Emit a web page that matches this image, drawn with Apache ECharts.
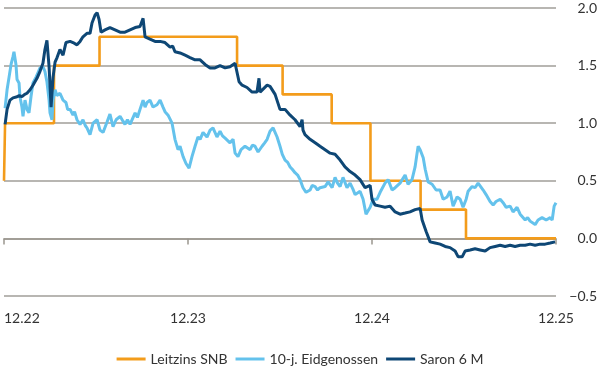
<!DOCTYPE html>
<html>
<head>
<meta charset="utf-8">
<script src="https://cdn.jsdelivr.net/npm/echarts@6/dist/echarts.min.js"></script>
<style>
html,body{margin:0;padding:0;background:#fff;}
#chart{width:600px;height:380px;}
</style>
</head>
<body>
<div id="chart"></div>
<script>
// x = months since 12.22 (mid-December 2022)
var tickLabels = ['12.22', '12.23', '12.24', '12.25'];
var seriesNames = ['Leitzins SNB', '10-j. Eidgenossen', 'Saron 6 M'];

// SNB policy rate (step changes)
var leitzins = [
  [0, 0.5], [0.07, 1.0], [3.26, 1.5], [6.23, 1.75], [15.2, 1.5], [18.17, 1.25],
  [21.37, 1.0], [23.9, 0.5], [27.17, 0.25], [30.13, 0.0], [36, 0.0]
];

// 10-year Swiss government bond yield
var eidgenossen = [
  [0.07,1.13],[0.2,1.29],[0.33,1.40],[0.46,1.51],[0.59,1.58],[0.65,1.62],[0.78,1.51],[0.85,1.38],
  [0.98,1.35],[1.04,1.23],[1.17,1.14],[1.24,1.06],[1.37,1.20],[1.5,1.12],[1.63,1.09],[1.76,1.23],
  [1.89,1.35],[2.09,1.40],[2.22,1.44],[2.35,1.48],[2.54,1.49],[2.67,1.45],[2.8,1.36],[2.94,1.20],
  [3.0,1.09],[3.13,1.03],[3.2,1.20],[3.33,1.29],[3.45,1.24],[3.52,1.23],[3.65,1.26],[3.85,1.20],
  [4.04,1.18],[4.15,1.12],[4.31,1.12],[4.5,1.07],[4.6,1.10],[4.76,1.03],[4.96,0.99],[5.15,1.03],
  [5.3,0.98],[5.41,0.96],[5.61,0.90],[5.81,1.00],[6.07,1.03],[6.26,0.94],[6.46,0.92],[6.72,1.01],
  [6.91,1.08],[7.11,0.97],[7.31,1.03],[7.57,1.06],[7.75,1.02],[7.89,0.99],[8.05,1.03],[8.22,0.99],
  [8.55,1.09],[8.7,1.05],[8.87,1.12],[9.07,1.20],[9.2,1.14],[9.33,1.18],[9.52,1.20],[9.72,1.14],
  [9.98,1.16],[10.18,1.20],[10.37,1.14],[10.5,1.10],[10.7,1.07],[10.96,1.00],[11.15,0.86],[11.35,0.77],
  [11.48,0.80],[11.68,0.71],[11.87,0.65],[12.07,0.61],[12.26,0.71],[12.46,0.80],[12.65,0.88],[12.79,0.86],
  [12.98,0.92],[13.24,0.88],[13.44,0.94],[13.63,0.96],[13.89,0.88],[14.09,0.93],[14.25,0.89],[14.42,0.87],
  [14.74,0.83],[14.94,0.86],[15.07,0.74],[15.26,0.71],[15.46,0.77],[15.72,0.80],[16.05,0.77],[16.2,0.81],
  [16.37,0.80],[16.57,0.75],[16.83,0.80],[17.0,0.83],[17.16,0.86],[17.35,0.93],[17.55,0.96],[17.81,0.88],
  [18.0,0.80],[18.15,0.73],[18.33,0.68],[18.5,0.66],[18.66,0.62],[18.8,0.60],[18.98,0.57],[19.15,0.55],
  [19.31,0.51],[19.5,0.44],[19.7,0.40],[19.96,0.42],[20.1,0.46],[20.29,0.45],[20.45,0.42],[20.61,0.44],
  [20.94,0.45],[21.14,0.49],[21.4,0.44],[21.59,0.53],[21.75,0.48],[21.92,0.45],[22.11,0.53],[22.37,0.44],
  [22.57,0.48],[22.75,0.43],[22.9,0.38],[23.22,0.41],[23.42,0.34],[23.61,0.21],[23.88,0.27],[24.07,0.34],
  [24.33,0.34],[24.53,0.40],[24.85,0.48],[25.05,0.51],[25.31,0.42],[25.51,0.44],[25.83,0.48],[26.16,0.55],
  [26.35,0.47],[26.61,0.51],[26.81,0.62],[26.94,0.74],[27.01,0.80],[27.14,0.77],[27.34,0.70],[27.47,0.60],
  [27.66,0.49],[27.92,0.47],[28.18,0.42],[28.44,0.42],[28.64,0.34],[28.9,0.36],[29.09,0.41],[29.29,0.28],
  [29.55,0.36],[29.75,0.34],[29.94,0.27],[30.14,0.34],[30.27,0.41],[30.53,0.45],[30.72,0.44],[30.92,0.48],
  [31.05,0.47],[31.25,0.42],[31.44,0.38],[31.7,0.32],[31.9,0.29],[32.09,0.32],[32.36,0.34],[32.55,0.31],
  [32.75,0.27],[33.01,0.28],[33.2,0.23],[33.46,0.27],[33.66,0.21],[33.99,0.16],[34.15,0.18],[34.31,0.15],
  [34.64,0.12],[34.83,0.16],[35.09,0.18],[35.36,0.16],[35.62,0.18],[35.75,0.16],[35.88,0.28],[36.0,0.31]
];

// Saron 6-month rate
var saron = [
  [0.07,0.99],[0.2,1.12],[0.39,1.20],[0.59,1.22],[0.85,1.23],[1.0,1.24],[1.17,1.23],[1.35,1.25],
  [1.5,1.26],[1.7,1.29],[1.89,1.33],[2.15,1.39],[2.35,1.45],[2.54,1.52],[2.67,1.64],[2.8,1.72],
  [2.94,1.49],[3.07,1.14],[3.2,1.40],[3.33,1.53],[3.46,1.57],[3.65,1.64],[3.85,1.59],[4.04,1.70],
  [4.31,1.71],[4.5,1.70],[4.76,1.68],[4.96,1.71],[5.15,1.75],[5.41,1.78],[5.61,1.78],[5.74,1.87],
  [5.94,1.94],[6.07,1.96],[6.2,1.90],[6.33,1.79],[6.59,1.81],[6.91,1.83],[7.24,1.81],[7.57,1.79],
  [7.89,1.79],[8.22,1.81],[8.55,1.83],[8.87,1.84],[9.07,1.91],[9.2,1.75],[9.52,1.73],[9.85,1.71],
  [10.18,1.71],[10.5,1.70],[10.83,1.66],[11.0,1.67],[11.15,1.62],[11.48,1.61],[11.81,1.59],[12.13,1.57],
  [12.46,1.55],[12.79,1.55],[13.11,1.51],[13.44,1.48],[13.76,1.48],[14.09,1.50],[14.42,1.48],[14.74,1.49],
  [15.07,1.52],[15.2,1.53],[15.33,1.36],[15.53,1.33],[15.85,1.31],[16.18,1.27],[16.5,1.27],[16.63,1.39],
  [16.7,1.27],[16.83,1.26],[17.16,1.33],[17.35,1.32],[17.68,1.25],[18.0,1.12],[18.33,1.12],[18.66,1.07],
  [18.98,1.03],[19.31,0.97],[19.44,1.03],[19.5,0.94],[19.63,0.90],[19.96,0.86],[20.29,0.83],[20.61,0.80],
  [20.94,0.77],[21.27,0.74],[21.59,0.73],[21.92,0.68],[22.24,0.62],[22.57,0.58],[22.9,0.55],[23.22,0.51],
  [23.55,0.44],[23.88,0.46],[24.0,0.34],[24.2,0.29],[24.53,0.28],[24.85,0.27],[25.18,0.28],[25.51,0.23],
  [25.83,0.21],[26.16,0.22],[26.48,0.23],[26.81,0.25],[27.14,0.26],[27.27,0.16],[27.53,0.06],[27.79,-0.03],
  [28.12,-0.04],[28.44,-0.05],[28.77,-0.07],[29.09,-0.08],[29.42,-0.11],[29.62,-0.16],[29.88,-0.16],[30.07,-0.11],
  [30.4,-0.10],[30.72,-0.09],[31.05,-0.10],[31.38,-0.11],[31.7,-0.08],[32.03,-0.07],[32.36,-0.06],[32.68,-0.07],
  [33.01,-0.06],[33.33,-0.07],[33.66,-0.06],[33.99,-0.06],[34.31,-0.05],[34.64,-0.06],[34.96,-0.05],[35.29,-0.05],
  [35.62,-0.04],[35.94,-0.03]
];

var colors = ['#f39c1b', '#64c2ec', '#0e4775'];
var font = 'Lato';
var chart = echarts.init(document.getElementById('chart'));
chart.setOption({
  animation: false,
  color: colors,
  grid: { left: 4, right: 44, top: 8, bottom: 84, containLabel: false },
  legend: {
    data: seriesNames,
    bottom: 9,
    left: 'center',
    icon: 'rect',
    itemWidth: 29,
    itemHeight: 3,
    itemGap: 8,
    textStyle: { fontFamily: font, fontSize: 14, color: '#333' }
  },
  xAxis: {
    type: 'value',
    min: 0, max: 36, interval: 12,
    axisLine: { show: true, lineStyle: { color: '#9a978f', width: 1.5 } },
    axisTick: { show: true, length: 6, lineStyle: { color: '#9a978f', width: 1.5 } },
    splitLine: { show: false },
    axisLabel: {
      fontFamily: font, fontSize: 14, color: '#333', margin: 15,
      alignMinLabel: 'left',
      formatter: function (v) { return tickLabels[Math.round(v / 12)]; }
    }
  },
  yAxis: {
    type: 'value',
    position: 'right',
    min: -0.5, max: 2.0, interval: 0.5,
    axisLine: { show: false },
    axisTick: { show: false },
    splitLine: { lineStyle: { color: '#a09e98', width: 1.5 } },
    axisLabel: {
      fontFamily: font, fontSize: 14, color: '#333', margin: 41, align: 'right',
      formatter: function (v) { return v.toFixed(1).replace('-', '\u2212'); }
    }
  },
  series: [
    { name: seriesNames[0], type: 'line', step: 'end', data: leitzins, showSymbol: false,
      lineStyle: { width: 2.6 }, z: 2 },
    { name: seriesNames[1], type: 'line', data: eidgenossen, showSymbol: false,
      lineStyle: { width: 3 }, z: 3 },
    { name: seriesNames[2], type: 'line', data: saron, showSymbol: false,
      lineStyle: { width: 3 }, z: 4 }
  ]
});
</script>
</body>
</html>
